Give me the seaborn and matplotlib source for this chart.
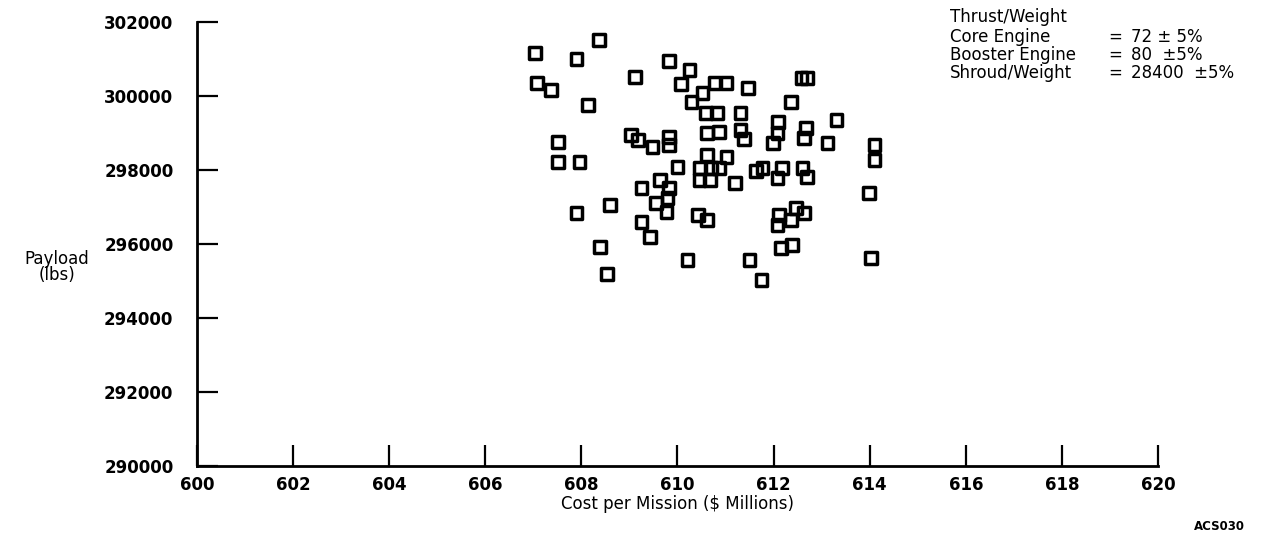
import matplotlib
matplotlib.use("Agg")
import matplotlib.pyplot as plt
import seaborn as sns
import pandas as pd

# Cost per mission ($ Millions)
cost = [607.03, 608.36, 607.90, 607.07, 607.36, 608.13, 609.11, 609.83, 610.25, 610.08,
        610.77, 611.02, 611.46, 610.52, 610.29, 610.60, 610.83, 611.31, 611.31, 610.62,
        610.87, 611.39, 609.04, 609.17, 609.48, 609.83, 609.83, 607.51, 607.51, 607.96,
        610.00, 610.46, 610.46, 610.71, 610.87, 610.67, 610.62, 611.02, 611.19, 611.64,
        609.25, 609.63, 609.83, 609.79, 609.56, 609.77, 610.42, 610.62, 609.25, 609.42,
        608.59, 607.90, 608.38, 608.54, 610.21, 612.58, 612.70, 612.37, 613.31, 612.10,
        612.08, 611.98, 612.68, 612.64, 613.12, 614.10, 614.10, 611.77, 612.08, 612.18,
        612.60, 612.70, 613.99, 612.12, 612.08, 612.47, 612.64, 612.37, 612.16, 612.39,
        611.50, 611.75, 614.03]

# Payload (lbs)
payload = [301160, 301515, 301000, 300350, 300160, 299760, 300515, 300950, 300700, 300330,
           300350, 300350, 300220, 300080, 299840, 299540, 299540, 299540, 299080, 299000,
           299030, 298840, 298950, 298810, 298620, 298680, 298890, 298760, 298220, 298220,
           298080, 298055, 297730, 298055, 298055, 297730, 298410, 298350, 297650, 297970,
           297510, 297730, 297510, 297240, 297110, 296870, 296780, 296650, 296600, 296190,
           297055, 296840, 295920, 295190, 295570, 300490, 300490, 299840, 299350, 299300,
           299000, 298730, 299140, 298870, 298730, 298680, 298270, 298055, 297785, 298055,
           298055, 297810, 297380, 296780, 296510, 296970, 296840, 296650, 295890, 295970,
           295570, 295030, 295620]

x_ticks = [600, 602, 604, 606, 608, 610, 612, 614, 616, 618, 620]
y_ticks = [290000, 292000, 294000, 296000, 298000, 300000, 302000]

x_label = "Cost per Mission ($ Millions)"
y_label = "Payload\n(lbs)"
note_title = "Thrust/Weight"
note_names = ["Core Engine", "Booster Engine", "Shroud/Weight"]
note_values = ["72 \u00b1 5%", "80  \u00b15%", "28400  \u00b15%"]
figure_id = "ACS030"

sns.set_theme(style="white", rc={"text.color": "black", "axes.labelcolor": "black",
                                 "xtick.color": "black", "ytick.color": "black",
                                 "xtick.bottom": True, "ytick.left": True})
plt.rcParams["font.family"] = ["DejaVu Sans"]

df = pd.DataFrame({"cost": cost, "payload": payload})

fig = plt.figure(figsize=(12.76, 5.35), dpi=100)
ax = fig.add_axes([0.1544, 0.129, 0.7531, 0.8299])

sns.scatterplot(data=df, x="cost", y="payload", ax=ax, marker="s", s=72,
                color="black", linewidth=2.5, legend=False, zorder=3)
coll = ax.collections[0]
coll.set_facecolor("none")
coll.set_edgecolor("black")
coll.set_clip_on(False)

ax.set_xlim(600, 620)
ax.set_ylim(290000, 302000)
ax.set_xticks(x_ticks)
ax.set_yticks(y_ticks)
ax.set_xticklabels([str(t) for t in x_ticks], fontweight="bold", fontsize=12)
ax.set_yticklabels([str(t) for t in y_ticks], fontweight="bold", fontsize=12)
ax.tick_params(axis="x", which="major", bottom=True, direction="in", length=15,
               width=1.6, pad=7, colors="black")
ax.tick_params(axis="y", which="major", left=True, direction="in", length=15,
               width=1.6, pad=17, colors="black")

for side in ["top", "right"]:
    ax.spines[side].set_visible(False)
for side in ["left", "bottom"]:
    ax.spines[side].set_color("black")
    ax.spines[side].set_linewidth(2.0)

ax.set_xlabel(x_label, fontsize=12, labelpad=1, color="black")
ax.set_ylabel("")
fig.text(57 / 1276, 1 - 267 / 535, y_label, ha="center", va="center",
         fontsize=12, linespacing=0.85, color="black")

# Annotation block (top right)
x0 = 950 / 1276
xeq = 1108 / 1276
xv = 1131 / 1276
fig.text(x0, 1 - 17 / 535, note_title, ha="left", va="center", fontsize=12, color="black")
for i, (n, v) in enumerate(zip(note_names, note_values)):
    yy = 1 - (37 + 18 * i) / 535
    fig.text(x0, yy, n, ha="left", va="center", fontsize=12, color="black")
    fig.text(xeq, yy, "=", ha="left", va="center", fontsize=12, color="black")
    fig.text(xv, yy, v, ha="left", va="center", fontsize=12, color="black")

fig.text(1245 / 1276, 1 - 527 / 535, figure_id, ha="right", va="center",
         fontsize=8.5, fontweight="bold", color="black")

fig.savefig("out.png", dpi=100, facecolor="white")
